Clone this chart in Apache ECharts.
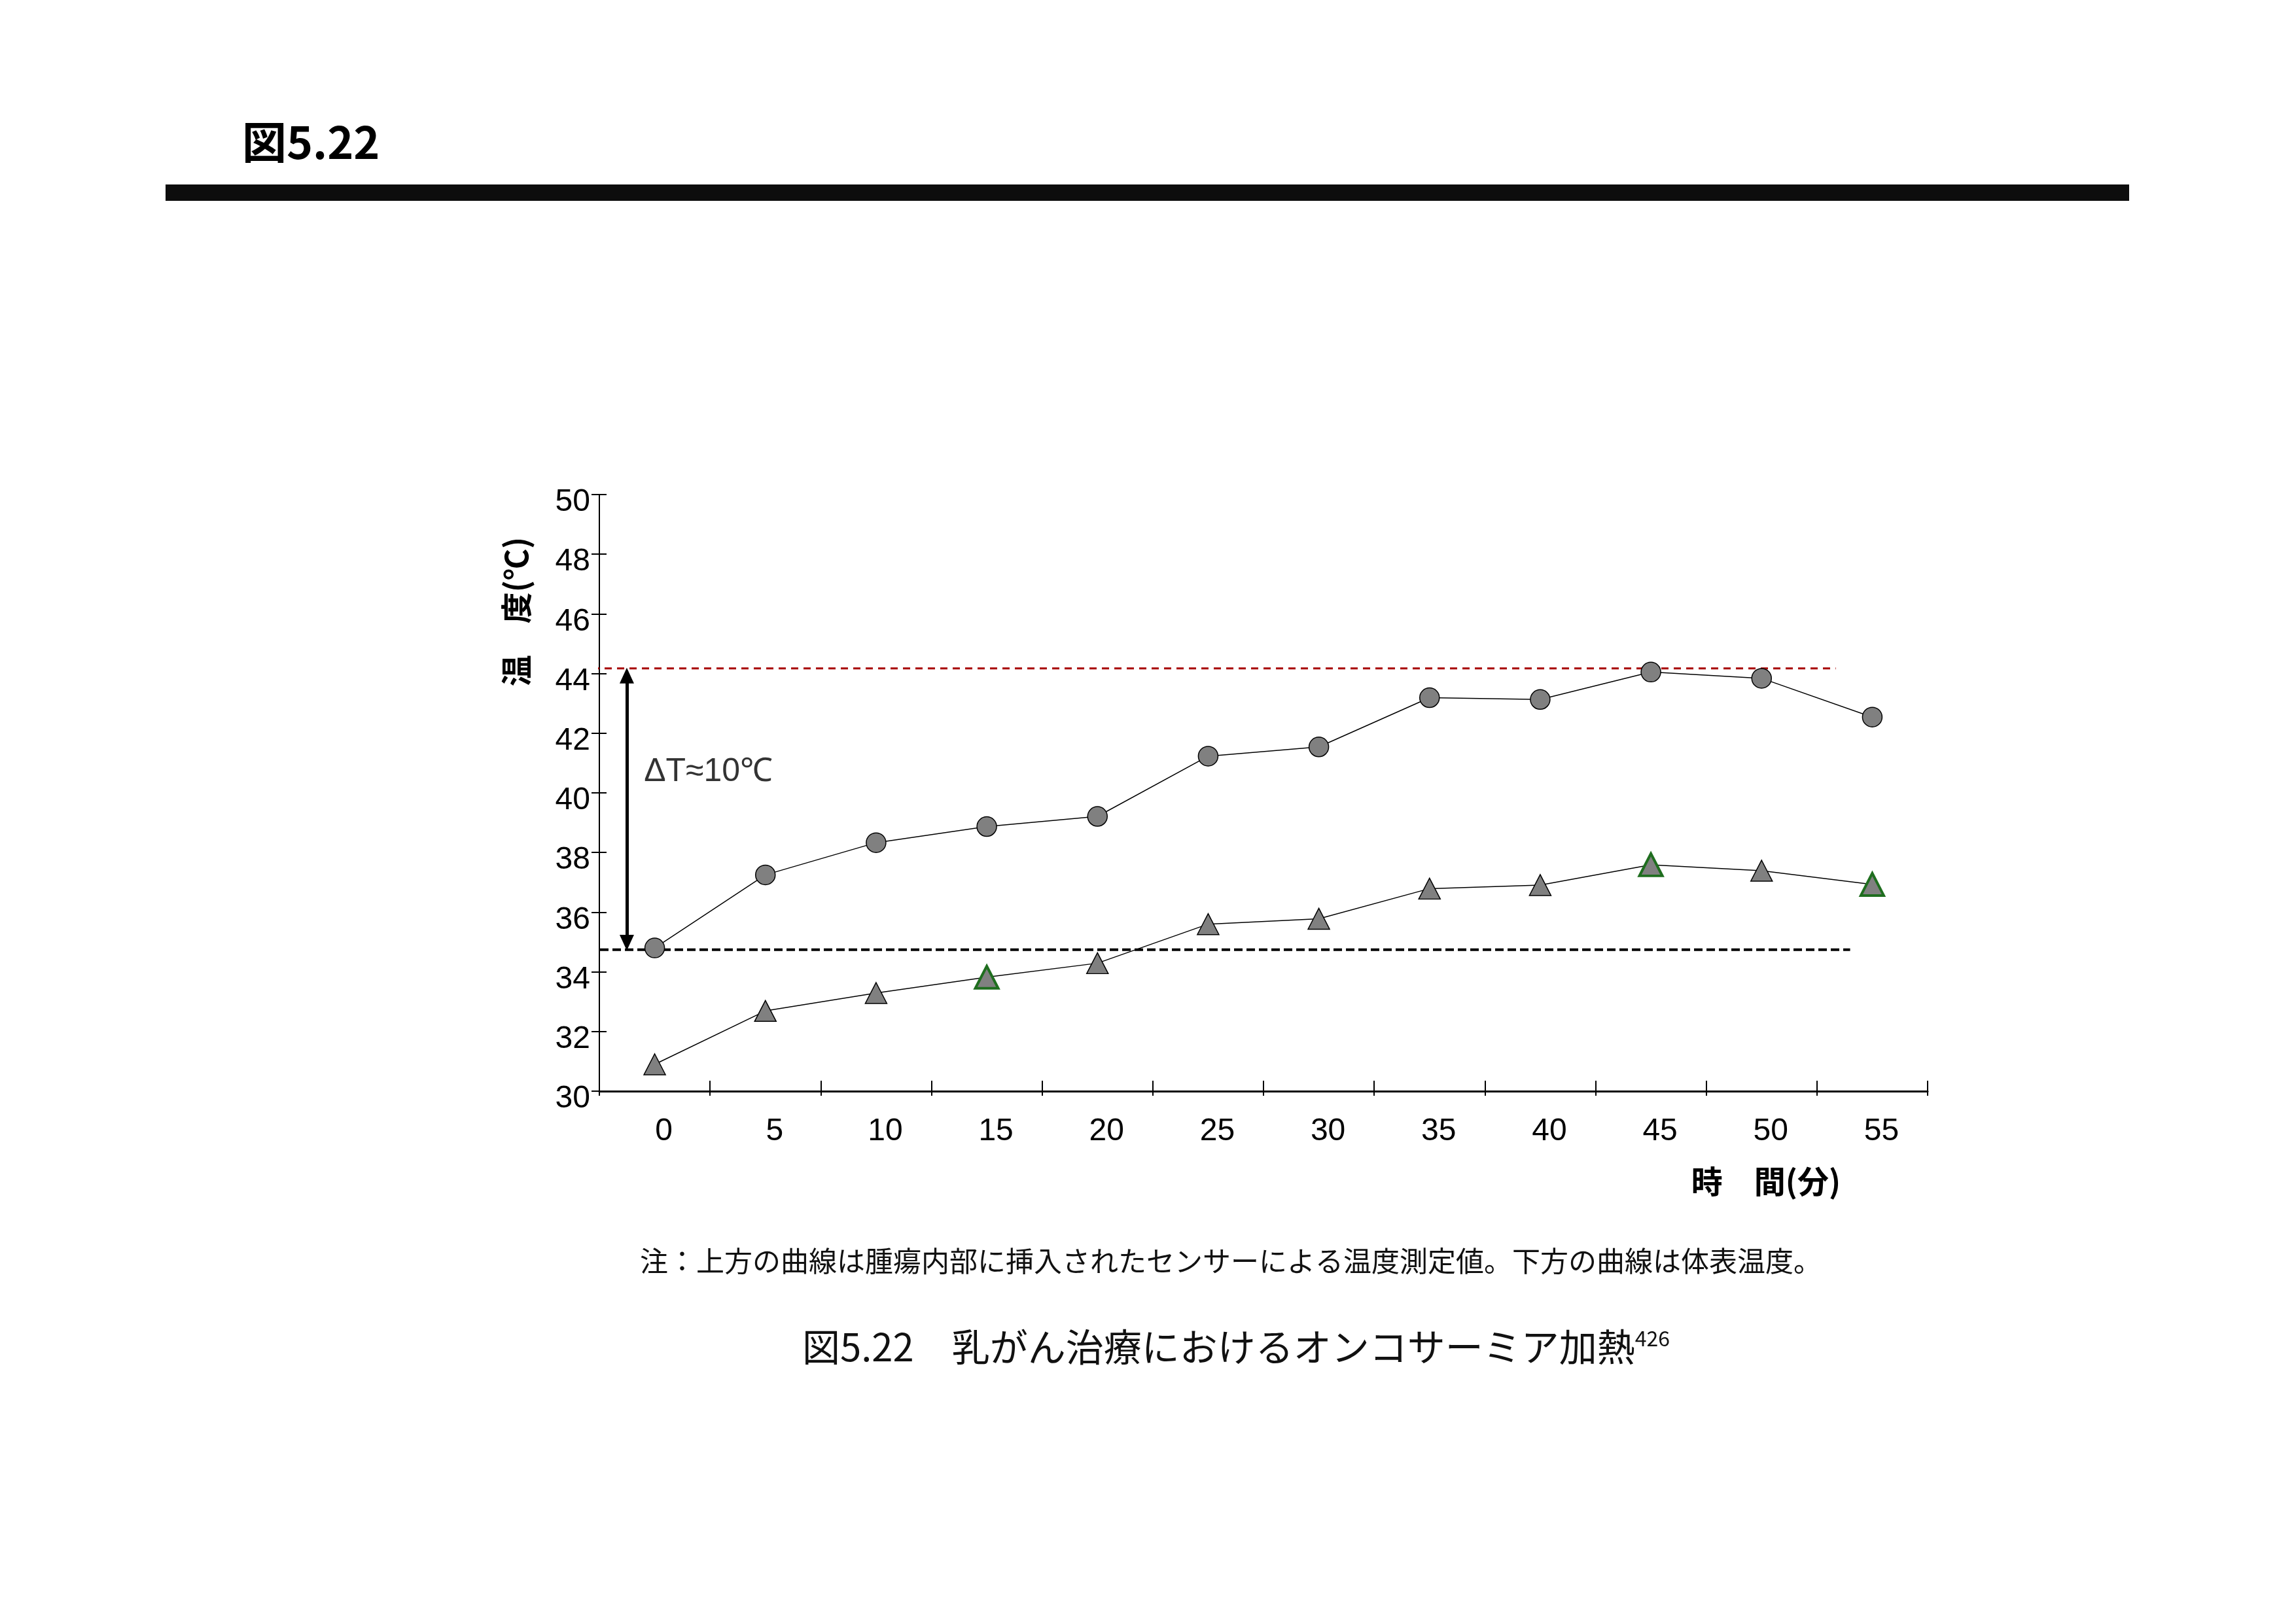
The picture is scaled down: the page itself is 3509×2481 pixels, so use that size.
<!DOCTYPE html>
<html>
<head>
<meta charset="utf-8">
<script src="https://cdn.jsdelivr.net/npm/echarts@6/dist/echarts.min.js"></script>
<style>
  html, body { margin: 0; padding: 0; background: #fff; }
  #chart { width: 3509px; height: 2481px; }
</style>
</head>
<body>
<div id="chart"></div>
<script>
// Time after start of heating (minutes)
const minutes = ['0', '5', '10', '15', '20', '25', '30', '35', '40', '45', '50', '55'];
// Upper curve: sensor inserted inside the tumour (°C)
const tumorTemp = [34.80, 37.25, 38.33, 38.87, 39.21, 41.23, 41.54, 43.19, 43.13, 44.05, 43.84, 42.54];
// Lower curve: body surface (°C)
const skinTemp = [30.90, 32.69, 33.29, 33.82, 34.29, 35.60, 35.78, 36.79, 36.91, 37.59, 37.39, 36.93];
// Surface readings drawn with a green outline
const skinHighlighted = [3, 9, 11];
// Temperature axis range and step
const yMin = 30, yMax = 50, yStep = 2;
// Reference levels: peak tumour temperature and starting temperature
const peakLevel = 44.17;
const startLevel = 34.74;
// Horizontal extent of the reference lines, in category units
const peakSpan = [-0.565, 10.67];
const startSpan = [-0.494, 10.80];
// Double arrow marking the difference, and its text
const arrowX = -0.252;
const arrowEnds = [43.93, 34.98];
const deltaLabel = { x: -0.10, y: 40.70, text: 'ΔT≈10℃' };

const NUM_FONT = '"Liberation Sans", Arial, sans-serif';
const JP_FONT = '"Noto Sans CJK JP", "Noto Sans", sans-serif';

const chart = echarts.init(document.getElementById('chart'), null, { renderer: 'canvas' });

const skinData = skinTemp.map((v, i) => skinHighlighted.includes(i)
  ? { value: v, symbolSize: [35, 34], itemStyle: { color: '#808080', borderColor: '#1f6e1f', borderWidth: 4 } }
  : v);

chart.setOption({
  backgroundColor: '#ffffff',
  animation: false,
  title: [
    {
      text: '図5.22', left: 370, top: 183, padding: 0,
      textStyle: { fontFamily: JP_FONT, fontWeight: 'bold', fontSize: 68, color: '#000' }
    },
    {
      text: '注：上方の曲線は腫瘍内部に挿入されたセンサーによる温度測定値。下方の曲線は体表温度。',
      left: 978, top: 1906, padding: 0,
      textStyle: { fontFamily: JP_FONT, fontWeight: 'normal', fontSize: 43, color: '#111' }
    },
    {
      text: '{m|図5.22　乳がん治療におけるオンコサーミア加熱}{s|426}',
      left: 1226, top: 2030, padding: 0,
      textStyle: {
        rich: {
          m: { fontFamily: JP_FONT, fontWeight: 'normal', fontSize: 58, color: '#111' },
          s: { fontFamily: JP_FONT, fontWeight: 'normal', fontSize: 32, color: '#111', verticalAlign: 'top' }
        }
      }
    }
  ],
  graphic: [
    { type: 'rect', shape: { x: 253, y: 282, width: 3001, height: 25 }, style: { fill: '#0d0d0d' }, silent: true }
  ],
  grid: { left: 916, top: 756, width: 2030, height: 912, containLabel: false },
  xAxis: [
    {
      type: 'category', data: minutes, boundaryGap: true,
      axisLine: { onZero: false, lineStyle: { color: '#000', width: 3 } },
      axisTick: { show: true, inside: false, length: 7, lineStyle: { color: '#000', width: 2 } },
      axisLabel: { interval: 0, margin: 38, fontFamily: NUM_FONT, fontSize: 48, color: '#000', padding: [0, 0, 0, 28] },
      splitLine: { show: false },
      name: '時　間(分)', nameLocation: 'middle', nameGap: 114,
      nameTextStyle: { fontFamily: JP_FONT, fontWeight: 'bold', fontSize: 48, color: '#000', padding: [0, 0, 0, 1536] }
    },
    { type: 'value', min: -0.5, max: 11.5, show: false },
    {
      type: 'category', data: minutes, boundaryGap: true, position: 'bottom',
      axisLine: { show: false, onZero: false },
      axisTick: { show: true, inside: true, length: 16, lineStyle: { color: '#000', width: 2 } },
      axisLabel: { show: false }, splitLine: { show: false }
    }
  ],
  yAxis: [
    {
      type: 'value', min: yMin, max: yMax, interval: yStep,
      axisLine: { show: true, onZero: false, lineStyle: { color: '#000', width: 2 } },
      axisTick: { show: true, inside: false, length: 12, lineStyle: { color: '#000', width: 2 } },
      axisLabel: {
        margin: 14, fontFamily: NUM_FONT, fontSize: 48, color: '#000',
        verticalAlign: 'top', lineHeight: 24
      },
      splitLine: { show: false },
      name: '温　度(℃)', nameLocation: 'middle', nameGap: 103,
      nameTextStyle: { fontFamily: JP_FONT, fontWeight: 'bold', fontSize: 48, color: '#000', padding: [0, 0, 0, 554] }
    },
    {
      type: 'value', min: yMin, max: yMax, interval: yStep, position: 'left',
      axisLine: { show: false, onZero: false },
      axisTick: { show: true, inside: true, length: 11, lineStyle: { color: '#000', width: 2 } },
      axisLabel: { show: false }, splitLine: { show: false }
    }
  ],
  series: [
    {
      name: '腫瘍内部', type: 'line', xAxisIndex: 0, yAxisIndex: 0, data: tumorTemp,
      symbol: 'circle', symbolSize: 30, z: 4,
      itemStyle: { color: '#808080', borderColor: '#000', borderWidth: 1.5 },
      lineStyle: { color: '#000', width: 1.5 }
    },
    {
      name: '体表', type: 'line', xAxisIndex: 0, yAxisIndex: 0, data: skinData,
      symbol: 'triangle', symbolSize: [33, 32], z: 4,
      itemStyle: { color: '#808080', borderColor: '#000', borderWidth: 1.5 },
      lineStyle: { color: '#000', width: 1.5 }
    },
    {
      name: 'peak', type: 'line', xAxisIndex: 1, yAxisIndex: 0, clip: false, silent: true, z: 3,
      data: [[peakSpan[0], peakLevel], [peakSpan[1], peakLevel]],
      symbol: 'none',
      lineStyle: { color: '#a80000', width: 3, type: [11, 8] },
      markLine: {
        silent: true, symbol: ['triangle', 'triangle'], symbolSize: [22, 24],
        label: { show: false },
        lineStyle: { color: '#000', width: 5, type: 'solid' },
        data: [[{ coord: [arrowX, arrowEnds[0]] }, { coord: [arrowX, arrowEnds[1]] }]]
      }
    },
    {
      name: 'start', type: 'line', xAxisIndex: 1, yAxisIndex: 0, clip: false, silent: true, z: 3,
      data: [[startSpan[0], startLevel], [startSpan[1], startLevel]],
      symbol: 'none',
      lineStyle: { color: '#000', width: 4, type: [13, 6] }
    },
    {
      name: 'delta', type: 'scatter', xAxisIndex: 1, yAxisIndex: 0, silent: true, z: 5,
      data: [[deltaLabel.x, deltaLabel.y]],
      symbolSize: 1, itemStyle: { color: 'rgba(0,0,0,0)' },
      label: {
        show: true, position: 'right', distance: 0, formatter: deltaLabel.text,
        fontFamily: NUM_FONT, fontSize: 50, color: '#000'
      }
    }
  ]
});
</script>
</body>
</html>
